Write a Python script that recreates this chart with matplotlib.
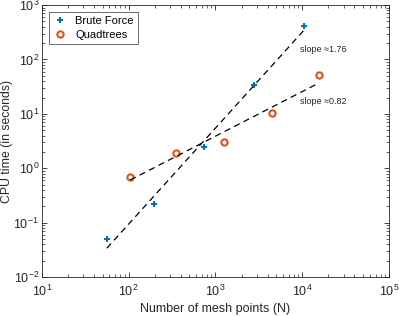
import numpy as np
import matplotlib
matplotlib.use('Agg')
import matplotlib.pyplot as plt

plt.rcParams['font.family'] = ['Liberation Sans', 'DejaVu Sans']

# data
bf_n = [56, 197, 740, 2760, 10400]
bf_t = [0.05, 0.22, 2.5, 34, 410]
qt_n = [104, 348, 1260, 4520, 15500]
qt_t = [0.70, 1.94, 3.1, 10.6, 52]

fig = plt.figure(figsize=(3.99, 3.16), dpi=100)
ax = fig.add_axes([0.105, 0.123, 0.87, 0.861])

ax.loglog(bf_n, bf_t, '+', color='#0072BD', ms=5, mew=1.5, label='Brute Force')
ax.loglog(qt_n, qt_t, 'o', color='#D95319', mfc='none', ms=4.5, mew=1.5, label='Quadtrees')

# least squares fits in log-log space
for n, t in [(bf_n, bf_t), (qt_n, qt_t)]:
    p = np.polyfit(np.log10(n), np.log10(t), 1)
    xx = np.array([min(n), max(n)])
    ax.loglog(xx, 10 ** np.polyval(p, np.log10(xx)), '--', color='black', lw=0.9, dashes=(5, 3.5))

ax.text(0.95e4, 150, 'slope \u22481.76', fontsize=6.5, color='#262626', va='center')
ax.text(0.95e4, 17, 'slope \u22480.82', fontsize=6.5, color='#262626', va='center')

ax.set_xlim(10, 1e5)
ax.set_ylim(1e-2, 1e3)
ax.set_xlabel('Number of mesh points (N)', fontsize=9, color='#262626', labelpad=3)
ax.set_ylabel('CPU time (in seconds)', fontsize=8.8, color='#262626')
ax.yaxis.set_label_coords(-0.082, 0.5)
ax.tick_params(which='both', direction='in', top=True, right=True, labelsize=9, colors='#262626')
ax.tick_params(which='major', length=3.5, width=0.6)
ax.tick_params(which='minor', length=2, width=0.5)
ax.tick_params(axis='y', pad=2)
ax.tick_params(axis='x', pad=5)
for s in ax.spines.values():
    s.set_linewidth(0.6)
    s.set_color('#262626')

leg = ax.legend(loc='upper left', fontsize=8, fancybox=False, edgecolor='#262626',
                handlelength=1.2, borderpad=0.4, labelspacing=0.3, borderaxespad=0.6)
leg.get_frame().set_linewidth(0.6)

plt.savefig('out.png', dpi=100)
